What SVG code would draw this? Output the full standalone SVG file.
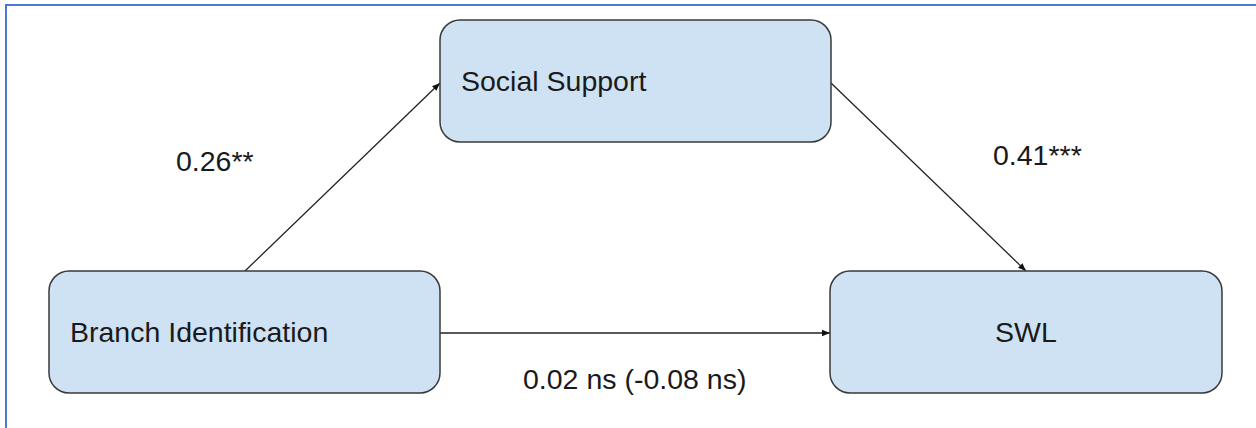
<svg xmlns="http://www.w3.org/2000/svg" width="1256" height="428" viewBox="0 0 1256 428">
  <style>
    .node rect { fill: #cfe2f3; stroke: #3a3a3a; stroke-width: 1.5; }
    .lbl { font-family: "Liberation Sans", Arial, sans-serif; font-size: 28.5px; fill: #1a1a1a; }
    .edge { stroke: #222; stroke-width: 1.3; fill: none; marker-end: url(#arrow); }
    .frame { stroke: #4a78d6; stroke-width: 2; fill: none; }
  </style>
  <defs>
    <marker id="arrow" viewBox="0 0 10 10" refX="10" refY="5" markerWidth="8" markerHeight="8" markerUnits="userSpaceOnUse" orient="auto">
      <path d="M0,1 L10,5 L0,9 Z" fill="#111"/>
    </marker>
  </defs>

  <rect width="1256" height="428" fill="#ffffff"/>
  <!-- outer frame (top and left edges visible) -->
  <path class="frame" d="M6,428 L6,5 L1256,5"/>

  <g id="connectors">
    <line class="edge" x1="245" y1="271" x2="440" y2="83"/>
    <line class="edge" x1="831" y1="83" x2="1026" y2="271"/>
    <line class="edge" x1="440" y1="333" x2="830" y2="333"/>
  </g>

  <g id="node-social-support" class="node">
    <rect x="440" y="20" width="391" height="122" rx="20" ry="20"/>
    <text class="lbl" x="461" y="91">Social Support</text>
  </g>

  <g id="node-branch-identification" class="node">
    <rect x="49" y="271" width="391" height="122" rx="20" ry="20"/>
    <text class="lbl" x="70" y="342">Branch Identification</text>
  </g>

  <g id="node-swl" class="node">
    <rect x="830" y="271" width="392" height="122" rx="20" ry="20"/>
    <text class="lbl" x="1026" y="342" text-anchor="middle">SWL</text>
  </g>

  <g id="edge-labels">
    <text class="lbl" x="176" y="171">0.26**</text>
    <text class="lbl" x="993" y="165">0.41***</text>
    <text class="lbl" x="523" y="389">0.02 ns (-0.08 ns)</text>
  </g>
</svg>
